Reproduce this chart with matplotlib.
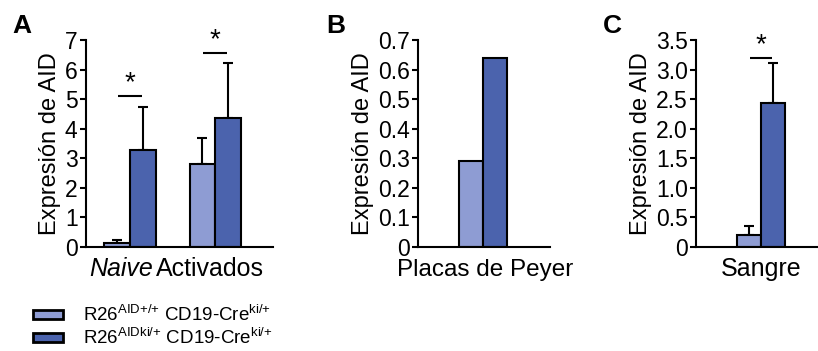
import matplotlib
matplotlib.use("Agg")
import matplotlib.pyplot as plt
from matplotlib.patches import Patch

plt.rcParams["font.family"] = ["Liberation Sans", "DejaVu Sans"]
plt.rcParams["mathtext.fontset"] = "custom"
plt.rcParams["mathtext.rm"] = "Liberation Sans"
plt.rcParams["mathtext.it"] = "Liberation Sans:italic"

LIGHT = "#8e9cd3"
DARK = "#4b63ad"

# panel A: naive vs activated B cells
a_groups = ["Naive", "Activados"]
a_wt = [0.15, 2.80]
a_wt_err = [0.10, 0.87]
a_ki = [3.27, 4.35]
a_ki_err = [1.47, 1.86]
a_sig_y = [5.1, 6.55]
a_yticks = [0, 1, 2, 3, 4, 5, 6, 7]
a_yticklabels = ["0", "1", "2", "3", "4", "5", "6", "7"]

# panel B: Peyer's patches (single measurement, no error)
b_groups = ["Placas de Peyer"]
b_wt = [0.29]
b_ki = [0.64]
b_yticks = [0, 0.1, 0.2, 0.3, 0.4, 0.5, 0.6, 0.7]
b_yticklabels = ["0", "0.1", "0.2", "0.3", "0.4", "0.5", "0.6", "0.7"]

# panel C: blood
c_groups = ["Sangre"]
c_wt = [0.20]
c_wt_err = [0.16]
c_ki = [2.43]
c_ki_err = [0.68]
c_sig_y = [3.19]
c_yticks = [0, 0.5, 1.0, 1.5, 2.0, 2.5, 3.0, 3.5]
c_yticklabels = ["0", "0.5", "1.0", "1.5", "2.0", "2.5", "3.0", "3.5"]

legend_labels = [
    r"R26$^{\mathregular{AID{+}/{+}}}$ CD19-Cre$^{\mathregular{ki/{+}}}$",
    r"R26$^{\mathregular{AIDki/{+}}}$ CD19-Cre$^{\mathregular{ki/{+}}}$",
]

W = 0.3
LW = 1.5
FS = 16.5

fig = plt.figure(figsize=(8.18, 3.51), dpi=100)
bottom, top = 0.2963, 0.886
axA = fig.add_axes([0.105, bottom, 0.229, top - bottom])
axB = fig.add_axes([0.511, bottom, 0.161, top - bottom])
axC = fig.add_axes([0.851, bottom, 0.149, top - bottom])


def draw_panel(ax, groups, wt, ki, wt_err=None, ki_err=None, sig=None):
    xs = list(range(len(groups)))
    xl = [x - W / 2 for x in xs]
    xr = [x + W / 2 for x in xs]
    ax.bar(xl, wt, W, color=LIGHT, edgecolor="black", linewidth=LW, zorder=2)
    ax.bar(xr, ki, W, color=DARK, edgecolor="black", linewidth=LW, zorder=2)
    if wt_err is not None:
        ax.errorbar(xl, wt, yerr=[[0] * len(wt), wt_err], fmt="none",
                    ecolor="black", elinewidth=LW, capsize=3.5, capthick=LW,
                    zorder=1)
        ax.errorbar(xr, ki, yerr=[[0] * len(ki), ki_err], fmt="none",
                    ecolor="black", elinewidth=LW, capsize=3.5, capthick=LW,
                    zorder=1)
    if sig is not None:
        for x, y in zip(xs, sig):
            ax.plot([x - 0.14, x + 0.14], [y, y], color="black", lw=LW,
                    solid_capstyle="butt", clip_on=False)
            ax.text(x, y, "*", ha="center", va="bottom", fontsize=20)
    ax.set_xticks(xs, groups, fontsize=FS + 1.5)
    ax.tick_params(axis="x", length=0, pad=7)
    ax.tick_params(axis="y", length=4, width=LW, labelsize=FS, pad=2)
    for s in ("top", "right"):
        ax.spines[s].set_visible(False)
    for s in ("left", "bottom"):
        ax.spines[s].set_linewidth(LW)
    ax.set_ylabel("Expresión de AID", fontsize=FS + 0.5, labelpad=3)


draw_panel(axA, a_groups, a_wt, a_ki, a_wt_err, a_ki_err, a_sig_y)
axA.set_xlim(-0.518, 1.68)
axA.set_ylim(0, 7)
axA.set_yticks(a_yticks, a_yticklabels)
# the two category names sit side by side; pull them apart a little
axA.set_xticks([-0.1, 0.94], a_groups, fontsize=FS + 1.5)
axA.get_xticklabels()[0].set_fontstyle("italic")

draw_panel(axB, b_groups, b_wt, b_ki)
axB.set_xlim(-0.80, 0.82)
axB.set_ylim(0, 0.7)
axB.set_yticks(b_yticks, b_yticklabels)
# long label runs under the "0" tick label, so drop it a touch
axB.set_xticks([0.03], b_groups, fontsize=FS + 1)
axB.tick_params(axis="x", pad=9)

draw_panel(axC, c_groups, c_wt, c_ki, c_wt_err, c_ki_err, c_sig_y)
axC.set_xlim(-0.81, 0.71)
axC.set_ylim(0, 3.5)
axC.set_yticks(c_yticks, c_yticklabels)

for x, letter in [(0.015, "A"), (0.399, "B"), (0.737, "C")]:
    fig.text(x, 0.96, letter, fontsize=19, fontweight="bold", va="top")

handles = [Patch(facecolor=LIGHT, edgecolor="black", linewidth=2),
           Patch(facecolor=DARK, edgecolor="black", linewidth=2)]
fig.legend(handles, legend_labels, loc="upper left",
           bbox_to_anchor=(33 / 818, 1 - 305 / 351), frameon=False,
           fontsize=13.5, handlelength=1.6, handleheight=0.35,
           handletextpad=1.05, labelspacing=0.15, borderpad=0,
           borderaxespad=0)

fig.savefig("out.png", dpi=100)
